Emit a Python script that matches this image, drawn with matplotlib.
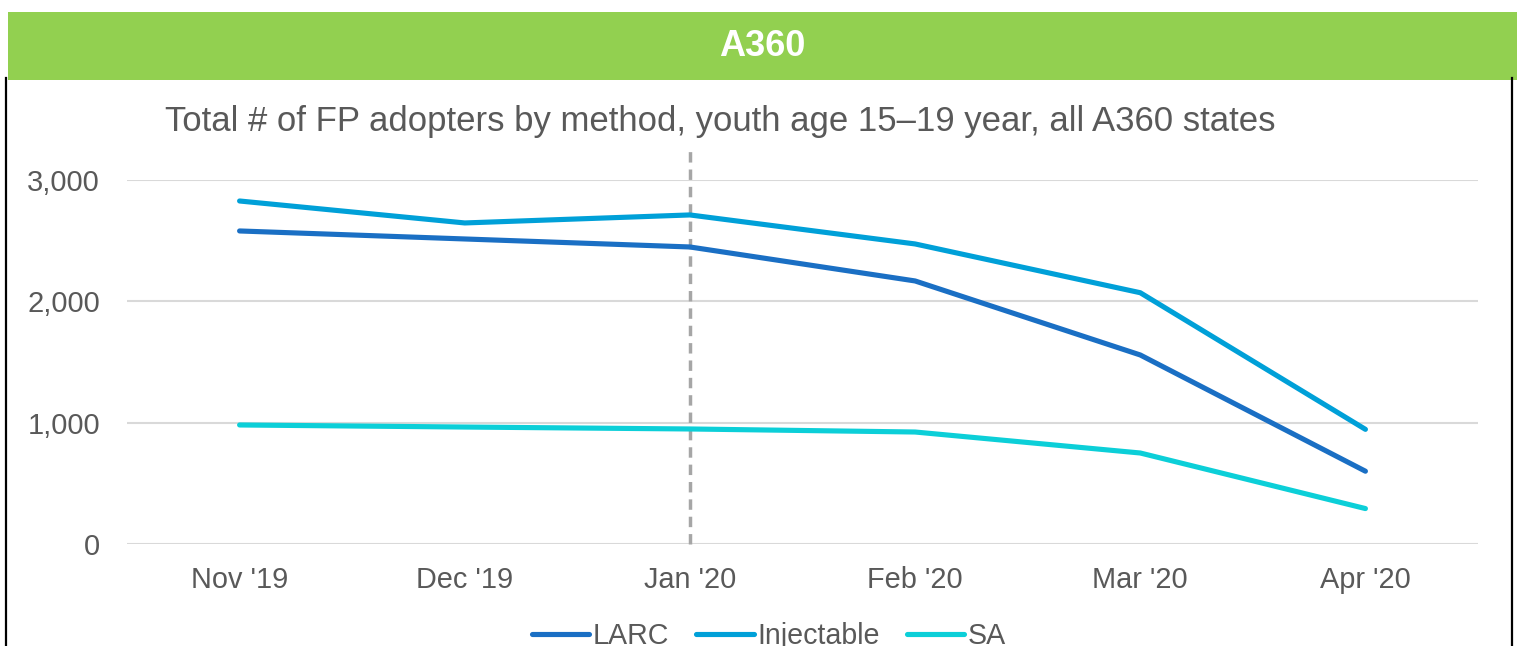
import matplotlib
matplotlib.use("Agg")
import matplotlib.pyplot as plt
from matplotlib.patches import Rectangle
from matplotlib.lines import Line2D
from matplotlib.ticker import FuncFormatter

plt.rcParams['font.family'] = ['Liberation Sans', 'DejaVu Sans']

months = ["Nov '19", "Dec '19", "Jan '20", "Feb '20", "Mar '20", "Apr '20"]
larc = [2580, 2514, 2448, 2168, 1558, 600]
injectable = [2827, 2646, 2712, 2473, 2071, 945]
sa = [981, 964, 948, 923, 750, 292]
series_names = ["LARC", "Injectable", "SA"]
colors = ["#1A6FC4", "#00A0D8", "#0CCFD8"]
yticks = [0, 1000, 2000, 3000]

W, H = 1517, 646
fig = plt.figure(figsize=(W / 100, H / 100), dpi=100)

def fx(px):
    return px / W

def fy(py):
    return 1 - py / H

# Header banner
fig.patches.append(Rectangle((fx(8), fy(80)), fx(1517) - fx(8), fy(12) - fy(80),
                             transform=fig.transFigure, facecolor="#92D050",
                             edgecolor="none", zorder=0))
fig.text(fx(762), fy(47), "A360", color="white", fontsize=26, fontweight="bold",
         ha="center", va="center")

# Black side borders
fig.add_artist(Line2D([fx(6), fx(6)], [fy(78), 0], transform=fig.transFigure,
                      color="black", lw=1.6))
fig.add_artist(Line2D([fx(1512), fx(1512)], [fy(78), 0], transform=fig.transFigure,
                      color="black", lw=1.6))

# Title
fig.text(fx(720), fy(122), "Total # of FP adopters by method, youth age 15\u201319 year, all A360 states",
         color="#595959", fontsize=25, ha="center", va="center")

ax = fig.add_axes([fx(127), fy(544), fx(1478) - fx(127), fy(180) - fy(544)])
x = list(range(len(months)))
for vals, name, c in zip([larc, injectable, sa], series_names, colors):
    ax.plot(x, vals, color=c, lw=3.7, label=name, solid_capstyle="round",
            solid_joinstyle="round", zorder=3)

ax.set_xlim(-0.5, len(months) - 0.5)
ax.set_ylim(0, 3000)
ax.set_xticks(x)
ax.set_xticklabels(months)
ax.set_yticks(yticks)
ax.yaxis.set_major_formatter(FuncFormatter(lambda v, p: f"{int(v):,}"))
ax.tick_params(axis="x", length=0, labelsize=20.8, labelcolor="#595959", pad=16)
ax.tick_params(axis="y", length=0, labelsize=21, labelcolor="#595959", pad=19.5)
for s in ax.spines.values():
    s.set_visible(False)
ax.grid(axis="y", color="#D9D9D9", lw=1.5, zorder=0)
ax.set_axisbelow(True)

ax.axvline(2, ymin=0, ymax=(544 - 150) / 364, color="#A6A6A6", lw=2.5,
           ls=(0, (3, 2)), clip_on=False, zorder=2)

handles = [Line2D([0], [0], color=c, lw=3.7, solid_capstyle="round") for c in colors]
fig.legend(handles, series_names, loc="center", bbox_to_anchor=(fx(769), fy(636)),
           ncol=3, frameon=False, fontsize=20.6, handlelength=2.0, handletextpad=0.12,
           columnspacing=0.95, labelcolor="#595959", borderpad=0)

fig.savefig("out.png", dpi=100)
